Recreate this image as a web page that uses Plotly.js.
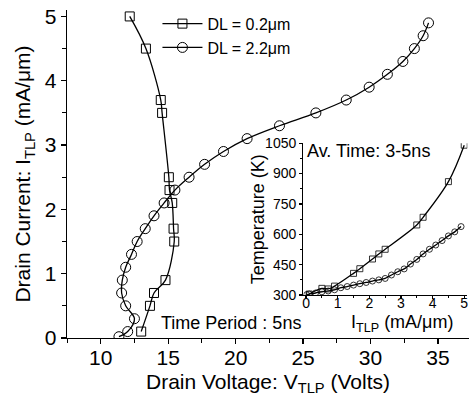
<!DOCTYPE html>
<html>
<head>
<meta charset="utf-8">
<script src="https://cdn.plot.ly/plotly-3.0.1.min.js"></script>
<style>html,body{margin:0;padding:0;background:#fff;}#chart{width:469px;height:402px;}</style>
</head>
<body>
<div id="chart"></div>
<script>
// DL = 0.2 um (squares)
const I_02 = [0.1, 0.5, 0.7, 0.9, 1.5, 1.7, 2.1, 2.3, 2.5, 3.5, 3.7, 4.5, 5.0];
const V_02 = [13.0, 13.65, 13.95, 14.8, 15.45, 15.4, 15.3, 15.1, 15.05, 14.55, 14.45, 13.35, 12.15];
const T_02 = [305, 333, 330, 344, 407, 430, 478, 503, 526, 646, 684, 860, 1040];
// DL = 2.2 um (circles)
const I_22 = [0.02, 0.1, 0.3, 0.5, 0.7, 0.9, 1.1, 1.3, 1.5, 1.7, 1.9, 2.1, 2.3, 2.5, 2.7, 2.9, 3.1, 3.3, 3.5, 3.7, 3.9, 4.1, 4.3, 4.5, 4.7, 4.9];
const V_22 = [11.35, 12.0, 12.5, 11.85, 11.55, 11.6, 11.85, 12.28, 12.7, 13.3, 13.95, 14.7, 15.5, 16.55, 17.7, 19.1, 20.85, 23.25, 25.95, 28.2, 29.9, 31.25, 32.4, 33.25, 33.9, 34.3];
const T_22 = [302, 305, 310, 316, 320, 326, 336, 342, 349, 356, 362, 369, 375, 382, 399, 415, 429, 453, 476, 503, 526, 547, 569, 592, 612, 638];
const names = ['DL = 0.2\u03bcm', 'DL = 2.2\u03bcm'];

const FONT = 'Liberation Sans, Arial, Helvetica, sans-serif';
const lineStyle = {color: '#000', width: 1.3, shape: 'spline', smoothing: 1};

const traces = [
  {x: V_02, y: I_02, name: names[0], mode: 'lines+markers', line: lineStyle,
   marker: {symbol: 'square-open', size: 9, color: '#000', line: {width: 1}}, xaxis: 'x', yaxis: 'y'},
  {x: V_22, y: I_22, name: names[1], mode: 'lines+markers', line: lineStyle,
   marker: {symbol: 'circle-open', size: 10, color: '#000', line: {width: 1}}, xaxis: 'x', yaxis: 'y'},
  {x: I_02, y: T_02, name: names[0], showlegend: false, mode: 'lines+markers', line: lineStyle,
   marker: {symbol: 'square-open', size: 6, color: '#000', line: {width: 0.8}}, xaxis: 'x2', yaxis: 'y2'},
  {x: I_22, y: T_22, name: names[1], showlegend: false, mode: 'lines+markers', line: lineStyle,
   marker: {symbol: 'circle-open', size: 6, color: '#000', line: {width: 0.8}}, xaxis: 'x2', yaxis: 'y2'}
];

const axBase = {showline: true, linecolor: '#000', linewidth: 1.3, ticks: 'outside', tickcolor: '#000',
  tickwidth: 1.2, showgrid: false, zeroline: false, mirror: false};

const layout = {
  width: 469, height: 402,
  margin: {l: 67, r: 0, t: 10, b: 64, pad: 0},
  paper_bgcolor: '#fff', plot_bgcolor: 'rgba(0,0,0,0)',
  font: {family: FONT, color: '#000'},
  showlegend: true,
  legend: {x: 0.225, y: 1.01, xanchor: 'left', yanchor: 'top', bgcolor: 'rgba(0,0,0,0)',
    font: {family: FONT, size: 16, color: '#000'}, tracegroupgap: 0, itemwidth: 40},
  xaxis: Object.assign({}, axBase, {domain: [0, 1], anchor: 'y', range: [7.5, 37.3], tick0: 0, dtick: 5, ticklen: 5,
    ticklabelstandoff: -5,
    minor: {dtick: 2.5, tick0: 0, ticks: 'outside', ticklen: 4, tickcolor: '#000', tickwidth: 1},
    tickfont: {family: FONT, size: 21},
    title: {text: 'Drain Voltage: V<sub>TLP</sub> (Volts)', font: {family: FONT, size: 21}, standoff: 6}}),
  yaxis: Object.assign({}, axBase, {domain: [0, 1], anchor: 'x', range: [0, 5.1], tick0: 0, dtick: 1, ticklen: 5,
    minor: {dtick: 0.5, tick0: 0, ticks: 'outside', ticklen: 4, tickcolor: '#000', tickwidth: 1},
    tickfont: {family: FONT, size: 21},
    title: {text: 'Drain Current: I<sub>TLP</sub> (mA/\u03bcm)', font: {family: FONT, size: 21}, standoff: 8}}),
  xaxis2: Object.assign({}, axBase, {domain: [0.588, 0.996], anchor: 'y2', range: [-0.085, 5.1], tick0: 0, dtick: 1, ticklen: 3,
    ticklabelstandoff: -8,
    minor: {dtick: 0.5, tick0: 0, ticks: 'outside', ticklen: 2, tickcolor: '#000', tickwidth: 1},
    tickfont: {family: FONT, size: 14}}),
  yaxis2: Object.assign({}, axBase, {domain: [0.131, 0.594], anchor: 'x2', range: [300, 1050], tick0: 0, dtick: 150, ticklen: 3,
    minor: {dtick: 75, tick0: 0, ticks: 'outside', ticklen: 2, tickcolor: '#000', tickwidth: 1},
    tickfont: {family: FONT, size: 14}}),
  annotations: [
    {text: 'Time Period : 5ns', xref: 'paper', yref: 'paper', x: 0.229, y: 0.047, xanchor: 'left', yanchor: 'middle',
     showarrow: false, font: {family: FONT, size: 18}},
    {text: 'Av. Time: 3-5ns', xref: 'paper', yref: 'paper', x: 0.593, y: 0.571, xanchor: 'left', yanchor: 'middle',
     showarrow: false, font: {family: FONT, size: 18}},
    {text: 'I<sub>TLP</sub> (mA/\u03bcm)', xref: 'paper', yref: 'paper', x: 0.833, y: 0.045, xanchor: 'center', yanchor: 'middle',
     showarrow: false, font: {family: FONT, size: 18}},
    {text: 'Temperature (K)', xref: 'paper', yref: 'paper', x: 0.476, y: 0.363, xanchor: 'center', yanchor: 'middle',
     textangle: -90, showarrow: false, font: {family: FONT, size: 18}}
  ]
};

Plotly.newPlot('chart', traces, layout, {displayModeBar: false, staticPlot: true});
</script>
</body>
</html>
